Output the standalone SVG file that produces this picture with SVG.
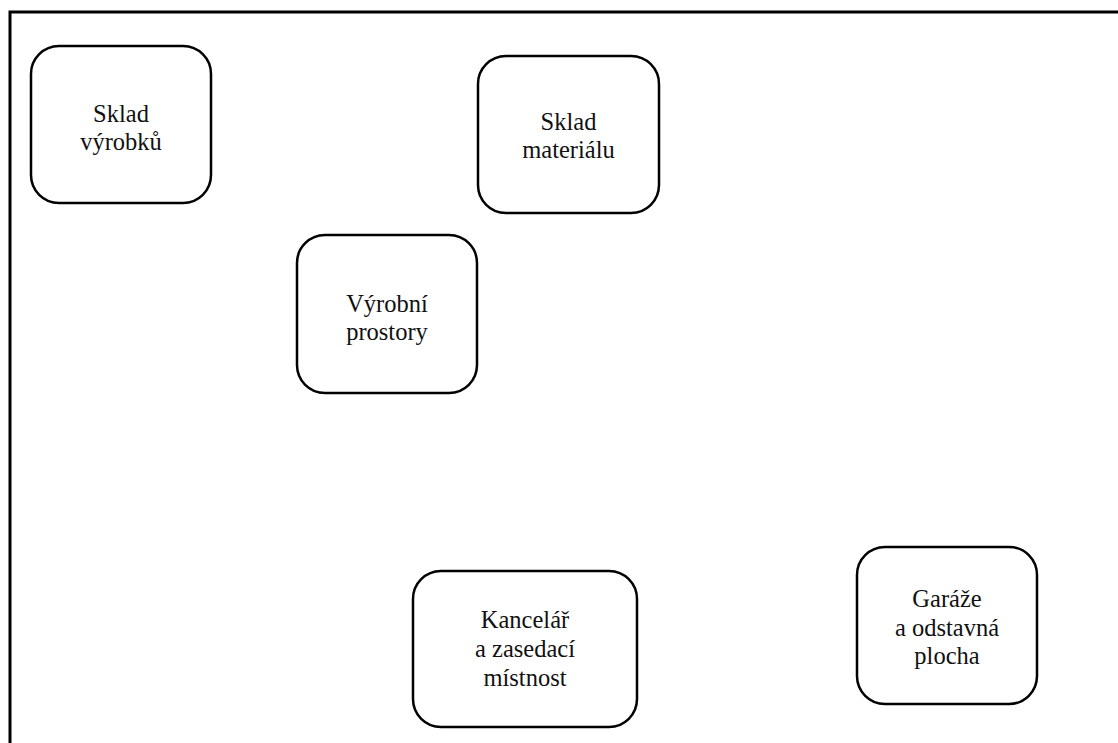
<svg xmlns="http://www.w3.org/2000/svg" width="1118" height="743" viewBox="0 0 1118 743">
  <style>
    .box { fill: #ffffff; stroke: #000000; stroke-width: 2.5; }
    .label { font-family: "Liberation Serif", "Times New Roman", serif; font-size: 24.5px; fill: #111111; text-anchor: middle; }
  </style>
  <rect x="0" y="0" width="1118" height="743" fill="#ffffff"/>
  <!-- outer frame, open past the right and bottom edges -->
  <rect id="frame" x="10" y="12" width="1120" height="750" fill="none" stroke="#000000" stroke-width="3"/>

  <g id="connectors"></g>

  <g id="sklad-vyrobku">
    <rect class="box" x="31" y="46" width="180" height="157" rx="28" ry="28"/>
    <text class="label"><tspan x="121" y="122">Sklad</tspan><tspan x="121" y="150">výrobků</tspan></text>
  </g>

  <g id="sklad-materialu">
    <rect class="box" x="478" y="56" width="181" height="157" rx="28" ry="28"/>
    <text class="label"><tspan x="568.5" y="130">Sklad</tspan><tspan x="568.5" y="158">materiálu</tspan></text>
  </g>

  <g id="vyrobni-prostory">
    <rect class="box" x="297" y="235" width="180" height="158" rx="28" ry="28"/>
    <text class="label"><tspan x="387" y="312">Výrobní</tspan><tspan x="387" y="340">prostory</tspan></text>
  </g>

  <g id="kancelar">
    <rect class="box" x="413" y="571" width="224" height="156" rx="28" ry="28"/>
    <text class="label"><tspan x="525" y="628">Kancelář</tspan><tspan x="525" y="657">a zasedací</tspan><tspan x="525" y="686">místnost</tspan></text>
  </g>

  <g id="garaze">
    <rect class="box" x="857" y="547" width="180" height="157" rx="28" ry="28"/>
    <text class="label"><tspan x="947" y="607">Garáže</tspan><tspan x="947" y="636">a odstavná</tspan><tspan x="947" y="664">plocha</tspan></text>
  </g>
</svg>
